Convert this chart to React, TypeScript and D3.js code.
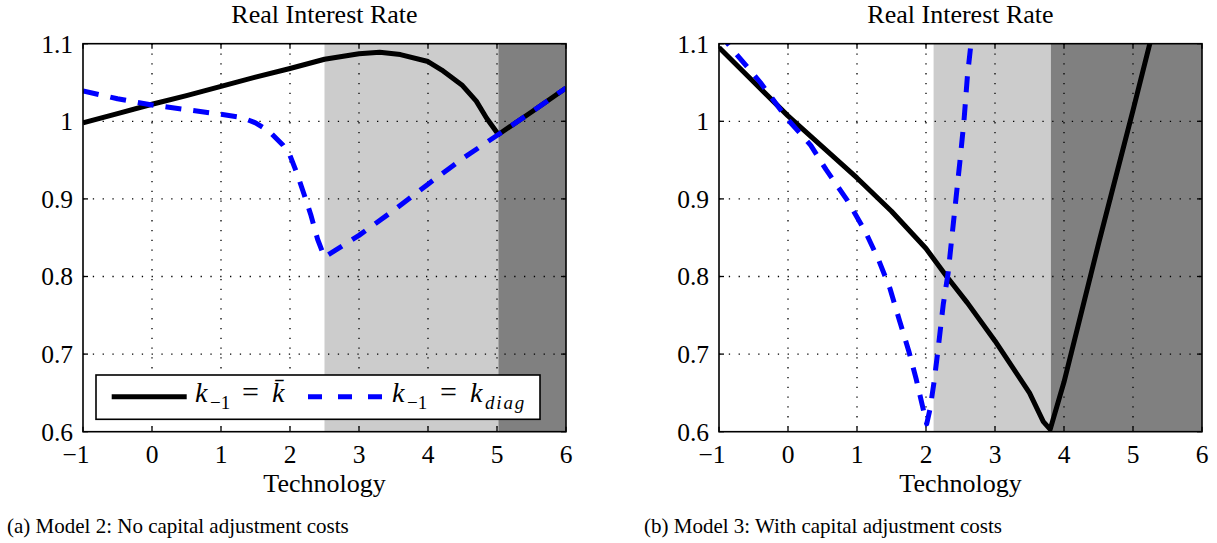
import React from 'react';
import * as d3 from 'd3';

// ---- data ----
const xTicks = [-1, 0, 1, 2, 3, 4, 5, 6];
const xTickLabels = ['\u22121', '0', '1', '2', '3', '4', '5', '6'];
const yTicks = [0.6, 0.7, 0.8, 0.9, 1.0, 1.1];
const yTickLabels = ['0.6', '0.7', '0.8', '0.9', '1', '1.1'];

// Model 2 (left)
const leftBlackX = [-1, -0.5, 0, 0.5, 1, 1.5, 2, 2.5, 3, 3.3, 3.6, 4, 4.2, 4.5, 4.7, 4.85, 5.02, 5.5, 6];
const leftBlackY = [0.998, 1.010, 1.022, 1.033, 1.045, 1.057, 1.068, 1.080, 1.087, 1.089, 1.086, 1.077, 1.066, 1.046, 1.026, 1.004, 0.983, 1.012, 1.043];
const leftBlueX = [-1, -0.5, 0, 0.5, 1, 1.3, 1.5, 1.7, 1.9, 2.0, 2.1, 2.2, 2.3, 2.4, 2.5, 3, 3.5, 4, 4.5, 5.02, 5.5, 6];
const leftBlueY = [1.039, 1.029, 1.021, 1.015, 1.009, 1.005, 0.998, 0.987, 0.969, 0.956, 0.933, 0.907, 0.880, 0.848, 0.825, 0.853, 0.885, 0.919, 0.952, 0.983, 1.012, 1.043];
const leftRegions = [
  { from: 2.5, to: 5.02, shade: 'light' },
  { from: 5.02, to: 6, shade: 'dark' },
];

// Model 3 (right)
const rightBlackX = [-1, -0.5, 0, 0.5, 1, 1.5, 2, 2.3, 2.6, 3, 3.5, 3.7, 3.8, 4.0, 4.5, 5.0, 5.3];
const rightBlackY = [1.095, 1.051, 1.007, 0.967, 0.927, 0.884, 0.836, 0.800, 0.766, 0.717, 0.650, 0.613, 0.603, 0.664, 0.842, 1.014, 1.12];
const rightBlueX = [-1, -0.8, -0.4, 0, 0.33, 0.55, 0.86, 1.12, 1.31, 1.48, 1.61, 1.75, 1.86, 1.97, 2.01, 2.06, 2.12, 2.18, 2.25, 2.32, 2.41, 2.49, 2.55, 2.6, 2.67];
const rightBlueY = [1.114, 1.092, 1.050, 1.002, 0.969, 0.938, 0.898, 0.858, 0.822, 0.784, 0.745, 0.704, 0.667, 0.625, 0.610, 0.630, 0.666, 0.710, 0.764, 0.804, 0.880, 0.947, 1.000, 1.058, 1.115];
const rightRegions = [
  { from: 2.11, to: 3.81, shade: 'light' },
  { from: 3.81, to: 6, shade: 'dark' },
];

const titleText = 'Real Interest Rate';
const xLabelText = 'Technology';
const captions = ['(a) Model 2: No capital adjustment costs', '(b) Model 3: With capital adjustment costs'];

// ---- style ----
const FONT = "'Liberation Serif', 'Times New Roman', Times, serif";
const LIGHT = '#cccccc';
const DARK = '#808080';
const BLUE = '#0000ff';
const TOP = 43.7;
const BOTTOM = 431.7;

type PanelProps = {
  id: string;
  left: number;
  right: number;
  blackX: number[];
  blackY: number[];
  blueX: number[];
  blueY: number[];
  regions: { from: number; to: number; shade: string }[];
  legend: boolean;
};

const txt = (size: number, extra: React.CSSProperties = {}): React.CSSProperties => ({
  fontFamily: FONT,
  fontSize: size + 'px',
  ...extra,
});

function Panel({ id, left, right, blackX, blackY, blueX, blueY, regions, legend }: PanelProps) {
  const x = d3.scaleLinear().domain([-1, 6]).range([left, right]);
  const y = d3.scaleLinear().domain([0.6, 1.1]).range([BOTTOM, TOP]);
  const line = d3
    .line<[number, number]>()
    .x((d) => x(d[0]))
    .y((d) => y(d[1]));
  const black = line(blackX.map((v, i) => [v, blackY[i]] as [number, number])) || '';
  const blue = line(blueX.map((v, i) => [v, blueY[i]] as [number, number])) || '';
  const cx = (left + right) / 2;
  const tickLen = 5;

  return (
    <g>
      <defs>
        <clipPath id={`clip-${id}`}>
          <rect x={left} y={TOP} width={right - left} height={BOTTOM - TOP} />
        </clipPath>
      </defs>
      <rect x={left} y={TOP} width={right - left} height={BOTTOM - TOP} fill="#fff" />
      {regions.map((r, i) => (
        <rect
          key={i}
          x={x(r.from)}
          y={TOP}
          width={x(r.to) - x(r.from)}
          height={BOTTOM - TOP}
          fill={r.shade === 'light' ? LIGHT : DARK}
        />
      ))}
      {xTicks.slice(1, -1).map((t) => (
        <line key={'gx' + t} x1={x(t)} x2={x(t)} y1={TOP} y2={BOTTOM} stroke="#000" strokeWidth={1.3} strokeDasharray="1.3 8.5" />
      ))}
      {yTicks.slice(1, -1).map((t) => (
        <line key={'gy' + t} x1={left} x2={right} y1={y(t)} y2={y(t)} stroke="#000" strokeWidth={1.3} strokeDasharray="1.3 8.5" />
      ))}
      <g clipPath={`url(#clip-${id})`}>
        <path d={black} fill="none" stroke="#000" strokeWidth={5} strokeLinejoin="round" />
        <path d={blue} fill="none" stroke={BLUE} strokeWidth={5} strokeDasharray="16 12" strokeLinejoin="round" />
      </g>
      {xTicks.map((t) => (
        <g key={'tx' + t}>
          <line x1={x(t)} x2={x(t)} y1={BOTTOM} y2={BOTTOM - tickLen} stroke="#000" strokeWidth={1.3} />
          <line x1={x(t)} x2={x(t)} y1={TOP} y2={TOP + tickLen} stroke="#000" strokeWidth={1.3} />
        </g>
      ))}
      {yTicks.map((t) => (
        <g key={'ty' + t}>
          <line x1={left} x2={left + tickLen} y1={y(t)} y2={y(t)} stroke="#000" strokeWidth={1.3} />
          <line x1={right} x2={right - tickLen} y1={y(t)} y2={y(t)} stroke="#000" strokeWidth={1.3} />
        </g>
      ))}
      <rect x={left} y={TOP} width={right - left} height={BOTTOM - TOP} fill="none" stroke="#000" strokeWidth={1.6} />
      {xTicks.map((t, i) => (
        <text key={'lx' + t} x={x(t)} y={463} dx={t < 0 ? -7 : 0} textAnchor="middle" style={txt(25.5)} fill="#000">
          {xTickLabels[i]}
        </text>
      ))}
      {yTicks.map((t, i) => (
        <text key={'ly' + t} x={left - 10} y={y(t)} dy="0.35em" textAnchor="end" style={txt(25.5)} fill="#000">
          {yTickLabels[i]}
        </text>
      ))}
      <text x={cx} y={23} textAnchor="middle" style={txt(26)} fill="#000">
        {titleText}
      </text>
      <text x={cx} y={492} textAnchor="middle" style={txt(26)} fill="#000">
        {xLabelText}
      </text>
      {legend && (
        <g>
          <rect x={96} y={375} width={444} height={44.3} fill="#fff" stroke="#000" strokeWidth={1.6} />
          <line x1={111.7} x2={186.7} y1={396.7} y2={396.7} stroke="#000" strokeWidth={5} />
          <line x1={308} x2={385} y1={396.7} y2={396.7} stroke={BLUE} strokeWidth={5} strokeDasharray="14 16" />
          <text y={402} style={txt(28)} fill="#000">
            <tspan x={195} fontStyle="italic">k</tspan>
            <tspan x={210} dy={7} style={txt(19)}>{'\u22121'}</tspan>
            <tspan x={242} dy={-7} style={txt(30)}>=</tspan>
            <tspan x={272} fontStyle="italic">{'k\u0304'}</tspan>
          </text>
          <text y={402} style={txt(28)} fill="#000">
            <tspan x={392} fontStyle="italic">k</tspan>
            <tspan x={407} dy={7} style={txt(19)}>{'\u22121'}</tspan>
            <tspan x={440} dy={-7} style={txt(30)}>=</tspan>
            <tspan x={470} fontStyle="italic">k</tspan>
            <tspan x={485} dy={7} style={txt(19, { fontStyle: 'italic', letterSpacing: '1.8px' })}>diag</tspan>
          </text>
        </g>
      )}
    </g>
  );
}

export default function App() {
  return (
    <svg
      width={1217}
      height={543}
      style={{ position: 'absolute', left: 0, top: 0, background: '#fff', fontFamily: FONT }}
      xmlns="http://www.w3.org/2000/svg"
    >
      <rect x={0} y={0} width={1217} height={543} fill="#fff" />
      <Panel
        id="a"
        left={83}
        right={566}
        blackX={leftBlackX}
        blackY={leftBlackY}
        blueX={leftBlueX}
        blueY={leftBlueY}
        regions={leftRegions}
        legend={true}
      />
      <Panel
        id="b"
        left={719}
        right={1202}
        blackX={rightBlackX}
        blackY={rightBlackY}
        blueX={rightBlueX}
        blueY={rightBlueY}
        regions={rightRegions}
        legend={false}
      />
      <text x={7} y={533} style={txt(21)} fill="#000">
        {captions[0]}
      </text>
      <text x={644} y={533} style={txt(21)} fill="#000">
        {captions[1]}
      </text>
    </svg>
  );
}
